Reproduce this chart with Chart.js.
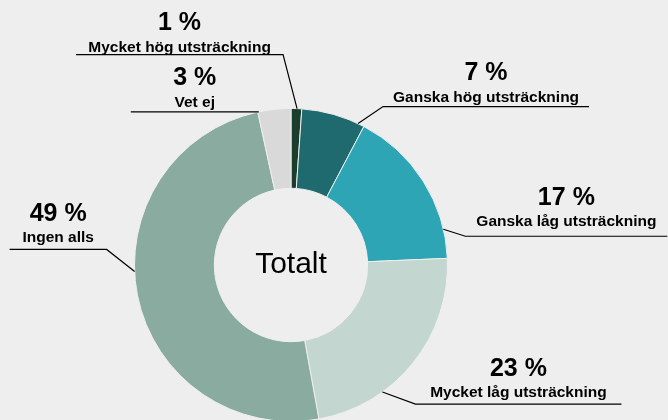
<!DOCTYPE html>
<html>
<head>
<meta charset="utf-8">
<script src="https://cdn.jsdelivr.net/npm/chart.js@4.4.1/dist/chart.umd.min.js"></script>
<style>
  html, body { margin: 0; padding: 0; background: #eeeeee; overflow: hidden; }
  #wrap { width: 668px; height: 420px; overflow: hidden; }
</style>
</head>
<body>
<div id="wrap"><canvas id="donut" width="668" height="430"></canvas></div>
<script>
// data, clockwise from 12 o'clock (shares, labels show them rounded)
const categories = ["Mycket hög utsträckning", "Ganska hög utsträckning", "Ganska låg utsträckning",
                    "Mycket låg utsträckning", "Ingen alls", "Vet ej"];
const shares = [1.1, 6.6, 16.6, 22.8, 49.4, 3.4];
const colors = ["#1b3d2b", "#1e6a6e", "#2ea5b5", "#c3d6d0", "#8aaca0", "#d9d9d9"];
const centerTitle = "Totalt";

// where each leader line leaves the ring (fraction along the arc), the elbow offset
// from that point, how far the horizontal part runs, and the label baseline gap
const leaders = [
    { t: 0.56, elbow: [-14, -54], run: -207, gap: 3 },
    { t: 0.9,  elbow: [25, -17],  run: 206,  gap: 5 },
    { t: 0.82, elbow: [22, 7],    run: 202,  gap: 10 },
    { t: 0.69, elbow: [33, 12],   run: 206,  gap: 7 },
    { t: 0.55, elbow: [-28, -22], run: -97,  gap: 7 },
    { t: 0.03, elbow: [0, 0],     run: -128, gap: 5 }
];

const FONT = "'Liberation Sans', Arial, sans-serif";

const labelPlugin = {
    id: "leaderLabels",
    afterDraw(chart) {
        const ctx = chart.ctx;
        const arcs = chart.getDatasetMeta(0).data;
        ctx.save();
        arcs.forEach((arc, i) => {
            const L = leaders[i];
            const a = arc.startAngle + (arc.endAngle - arc.startAngle) * L.t;
            const ax = arc.x + Math.cos(a) * arc.outerRadius;
            const ay = arc.y + Math.sin(a) * arc.outerRadius;
            const ex = ax + L.elbow[0];
            const ey = ay + L.elbow[1];
            const fx = ex + L.run;

            ctx.strokeStyle = "#000";
            ctx.lineWidth = 1.2;
            ctx.beginPath();
            ctx.moveTo(ax, ay);
            ctx.lineTo(ex, ey);
            ctx.lineTo(fx, ey);
            ctx.stroke();

            const cx = (ex + fx) / 2;
            const base = ey - L.gap;
            ctx.fillStyle = "#000";
            ctx.textAlign = "center";
            ctx.textBaseline = "alphabetic";
            ctx.font = "bold 15.5px " + FONT;
            ctx.fillText(categories[i], cx, base);
            ctx.font = "bold 25px " + FONT;
            ctx.fillText(Math.round(shares[i]) + " %", cx, base - 21.5);
        });

        const first = arcs[0];
        ctx.font = "30px " + FONT;
        ctx.textAlign = "center";
        ctx.textBaseline = "middle";
        ctx.fillStyle = "#000";
        ctx.fillText(centerTitle, first.x, first.y);
        ctx.restore();
    }
};

new Chart(document.getElementById("donut"), {
    type: "doughnut",
    data: {
        labels: categories,
        datasets: [{
            data: shares,
            backgroundColor: colors,
            borderColor: "#eeeeee",
            borderWidth: 1
        }]
    },
    options: {
        responsive: false,
        devicePixelRatio: 1,
        animation: false,
        cutout: "49%",
        layout: { padding: { left: 134, right: 220, top: 108, bottom: 8 } },
        plugins: {
            legend: { display: false },
            tooltip: { enabled: false }
        }
    },
    plugins: [labelPlugin]
});
</script>
</body>
</html>
